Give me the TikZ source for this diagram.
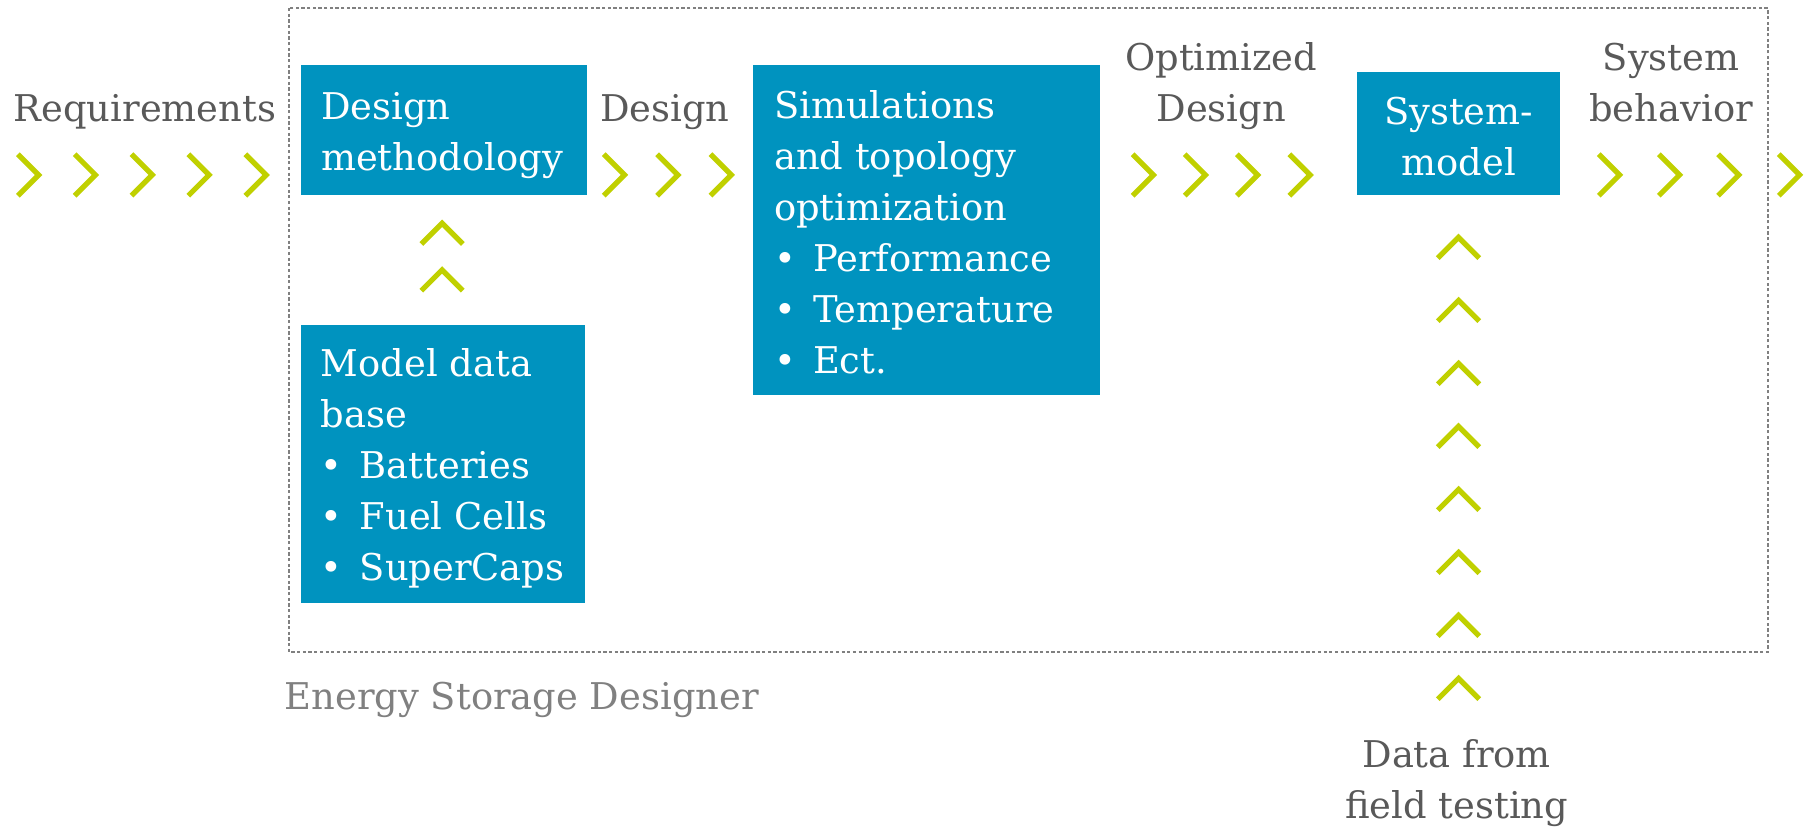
\documentclass[tikz,border=0pt]{standalone}
\usepackage{fontspec}
\setmainfont{DejaVu Serif}
\usetikzlibrary{calc}
\definecolor{boxblue}{RGB}{0,147,191}
\definecolor{chevgreen}{RGB}{192,208,0}
\definecolor{txtgray}{RGB}{89,89,89}
\definecolor{esdgray}{RGB}{128,128,128}
\newcommand{\bitem}{\makebox[0.338cm][l]{\textbullet}}

\begin{document}
\begin{tikzpicture}[
    txt/.style={font=\fontsize{9.1pt}{12.6pt}\selectfont,text=txtgray,inner sep=0pt},
    boxtxt/.style={txt,text=white,align=left,anchor=base west},
    bluebox/.style={fill=boxblue,inner sep=0pt,anchor=north west},
    chev/.pic={\draw[chevgreen,line width=1.3pt,line cap=butt,line join=miter] (-0.095,0.18) -- (0.085,0) -- (-0.095,-0.18);}
  ]
  \useasboundingbox (0,0) rectangle (15.68,-7.185);
  % frame of the designer
  \draw[esdgray,line width=0.4pt,dash pattern=on 0.8pt off 0.6pt] (2.51,-0.07) rectangle (15.34,-5.66);
  \node[txt,text=esdgray,anchor=base west](esd)at(2.464,-6.16){Energy Storage Designer};
  % boxes (text anchored at its last line)
  \node[bluebox,minimum width=2.482cm,minimum height=1.131cm](meth)at(2.603,-0.555){};
  \node[boxtxt](metht)at($(meth.north west)+(0.177,-0.924)$){Design\\methodology};
  \node[bluebox,minimum width=3.006cm,minimum height=2.864cm](sim)at(6.531,-0.555){};
  \node[boxtxt](simt)at($(sim.north west)+(0.179,-2.685)$){Simulations\\and topology\\optimization\\\bitem Performance\\\bitem Temperature\\\bitem Ect.};
  \node[bluebox,minimum width=1.756cm,minimum height=1.064cm](sysm)at(11.772,-0.622){};
  \node[boxtxt,align=center,anchor=base](sysmt)at($(sysm.north)+(0,-0.897)$){System-\\model};
  \node[bluebox,minimum width=2.465cm,minimum height=2.409cm](mdb)at(2.603,-2.812){};
  \node[boxtxt](mdbt)at($(mdb.north west)+(0.174,-2.227)$){Model data\\base\\\bitem Batteries\\\bitem Fuel Cells\\\bitem SuperCaps};
  % labels
  \node[txt,anchor=base](req)at(1.258,-1.056){Requirements};
  \node[txt,anchor=base](des)at(5.77,-1.056){Design};
  \node[txt,align=center,anchor=base](opt)at(10.597,-1.056){Optimized\\Design};
  \node[txt,align=center,anchor=base](sysb)at(14.50,-1.056){System\\behavior};
  \node[txt,align=center,anchor=base](data)at(12.64,-7.10){Data from\\field testing};
  % chevrons
  \foreach \x in {0.25,0.743,1.236,1.729,2.224} \pic at (\x,-1.518) {chev};
  \foreach \x in {5.334,5.797,6.26} \pic at (\x,-1.518) {chev};
  \foreach \x in {9.923,10.375,10.828,11.283} \pic at (\x,-1.518) {chev};
  \foreach \x in {13.968,14.489,15.003,15.53} \pic at (\x,-1.518) {chev};
  \foreach \y in {2.022,2.427} \pic[rotate=90] at (3.836,-\y) {chev};
  \foreach \y in {2.145,2.692,3.239,3.785,4.332,4.879,5.425,5.972} \pic[rotate=90] at (12.656,-\y) {chev};
\end{tikzpicture}
\end{document}
